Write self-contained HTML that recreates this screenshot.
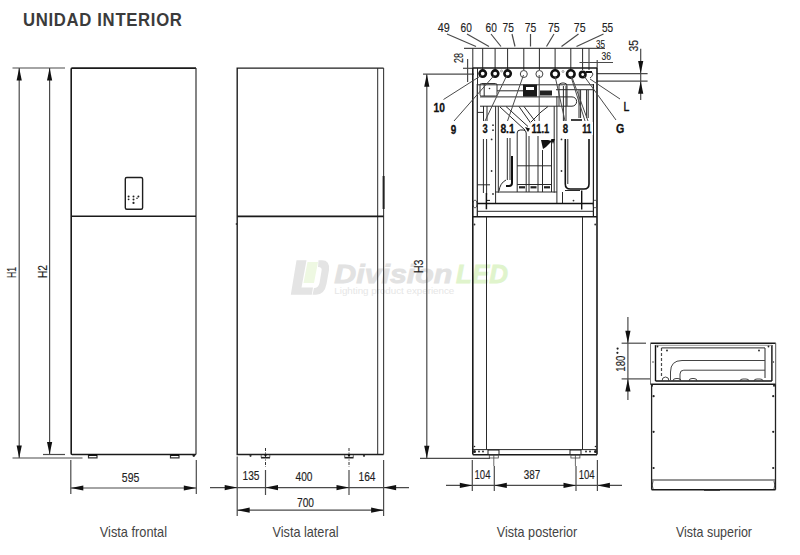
<!DOCTYPE html>
<html><head><meta charset="utf-8">
<style>
html,body{margin:0;padding:0;background:#fff;}
svg{display:block;}
text{font-family:"Liberation Sans",sans-serif;}
.t{font-size:19px;font-weight:bold;fill:#3b3b3b;}
.v{font-size:15px;fill:#444;}
.d{font-size:13px;fill:#1e1e1e;stroke:#1e1e1e;stroke-width:0.15;}
.b{font-size:13px;font-weight:bold;fill:#111;stroke:#111;stroke-width:0.3;}
.s{font-size:11px;fill:#222;stroke:#222;stroke-width:0.1;}
.k{stroke:#1a1a1a;stroke-width:1.6;fill:none;}
.m{stroke:#2a2a2a;stroke-width:1;fill:none;}
.l{stroke:#4a4a4a;stroke-width:1.2;fill:none;}
.th{stroke:#111;stroke-width:2;fill:none;}
</style></head>
<body>
<svg width="800" height="555" viewBox="0 0 800 555">
<defs>
<path id="aU" d="M0,0 L-2.6,12.5 L2.6,12.5 Z" fill="#111"/>
</defs>
<rect width="800" height="555" fill="#fff"/>

<!-- watermark -->
<g id="wm">
  <path d="M296.5,260.3 L306.5,260.3 L301.5,287.5 L313,287.5 L311.8,294.7 L290.8,294.7 Z" fill="#e4e4e4"/>
  <path d="M307.5,262 L318,262 L314,283 L303.5,283 Z" fill="#eef8e2"/>
  <path d="M318.5,260.3 L322,260.3 Q330,260.3 329,270 L326.5,284 Q324.5,294.7 316,294.7 L312.5,294.7 L314,288 Q318.5,288 319.5,283 L321.5,271 Q322.5,267 318,267 Z" fill="#e4e4e4"/>
  <text x="334.3" y="283" font-size="26" font-weight="bold" font-style="italic" fill="#e2e2e2" stroke="#e2e2e2" stroke-width="0.8" textLength="118" lengthAdjust="spacingAndGlyphs">Division</text>
  <text x="456" y="283" font-size="26" font-weight="bold" font-style="italic" fill="#e0f4cc" stroke="#e0f4cc" stroke-width="0.8" textLength="52" lengthAdjust="spacingAndGlyphs">LED</text>
  <text x="334.3" y="293.5" font-size="9.5" fill="#e6e6e6" textLength="120" lengthAdjust="spacingAndGlyphs">Lighting product experience</text>
</g>

<!-- Title -->
<text transform="translate(22.9,26) scale(0.88,1)" class="t" textLength="180.7" lengthAdjust="spacing">UNIDAD INTERIOR</text>

<!-- ============ FRONT VIEW ============ -->
<g id="front">
  <!-- H1 / H2 dims -->
  <line class="l" x1="12.5" y1="68" x2="65" y2="68"/>
  <line class="l" x1="19.2" y1="68" x2="19.2" y2="458"/>
  <line class="l" x1="49.6" y1="68" x2="49.6" y2="454.5"/>
  <use href="#aU" transform="translate(19.2,68)"/>
  <use href="#aU" transform="translate(49.6,68)"/>
  <use href="#aU" transform="translate(19.2,458) rotate(180)"/>
  <use href="#aU" transform="translate(49.6,454.5) rotate(180)"/>
  <line class="l" x1="12.5" y1="458" x2="82.5" y2="458"/>
  <line class="l" x1="43" y1="454.5" x2="65" y2="454.5"/>
  <text class="d" transform="translate(15.9,278) rotate(-90)" textLength="11" lengthAdjust="spacingAndGlyphs">H1</text>
  <text class="d" transform="translate(47,278) rotate(-90)" textLength="13" lengthAdjust="spacingAndGlyphs">H2</text>

  <!-- body -->
  <path class="k" d="M196,68.1 H72.2 q-1,0 -1,1 V453.5 q0,1 1,1 H196"/>
  <line x1="196" y1="68.1" x2="196" y2="454.5" stroke="#333" stroke-width="1.2"/>
  <line class="k" x1="71.2" y1="216.3" x2="196" y2="216.3"/>
  <rect x="125.3" y="177.5" width="17.3" height="31.7" rx="1.5" fill="none" stroke="#1e1e1e" stroke-width="1.4"/>
  <g fill="#222">
    <circle cx="128.6" cy="196.6" r="1"/><circle cx="128.6" cy="199.3" r="0.9"/>
    <circle cx="133.5" cy="196.6" r="1"/><circle cx="133.5" cy="199.6" r="1"/><circle cx="133.5" cy="202.9" r="1.1"/>
    <circle cx="138.4" cy="196.4" r="1"/><circle cx="137" cy="198.3" r="0.8"/>
  </g>
  <!-- feet -->
  <g fill="none" stroke="#333" stroke-width="1.2">
    <path d="M88.5,455 V457.8 H97 V455"/><path d="M170.5,455 V457.8 H179 V455"/>
  </g>
  <g stroke="#000" stroke-width="1.4"><line x1="88.5" y1="455.2" x2="97" y2="455.2"/><line x1="170.5" y1="455.2" x2="179" y2="455.2"/></g>
  <circle cx="193.8" cy="455.6" r="1.3" fill="#222"/>

  <!-- width dim -->
  <line class="l" x1="70.8" y1="460" x2="70.8" y2="494"/>
  <line class="l" x1="196.3" y1="460" x2="196.3" y2="494"/>
  <line class="l" x1="70.8" y1="488" x2="196.3" y2="488"/>
  <use href="#aU" transform="translate(70.8,488) rotate(-90)"/>
  <use href="#aU" transform="translate(196.3,488) rotate(90)"/>
  <text class="d" x="121.8" y="481.7" textLength="17.5" lengthAdjust="spacingAndGlyphs">595</text>
</g>

<!-- ============ SIDE VIEW ============ -->
<g id="side">
  <path d="M383.6,68.1 H237.2 V454.5 H383.6" fill="none" stroke="#1e1e1e" stroke-width="1.4"/>
  <line x1="383.6" y1="68.1" x2="383.6" y2="454.5" stroke="#3a3a3a" stroke-width="1.1"/>
  <line class="m" x1="377.7" y1="68.1" x2="377.7" y2="454.5"/>
  <line class="k" x1="237.2" y1="216.4" x2="383.6" y2="216.4"/>
  <line x1="383.6" y1="176" x2="383.6" y2="209" stroke="#222" stroke-width="2"/>
  <circle cx="236.6" cy="224" r="1" fill="#333"/>
  <!-- feet -->
  <g stroke="#333" stroke-width="1" fill="none" stroke-dasharray="3,1.5,1,1.5">
    <line x1="265.5" y1="448" x2="265.5" y2="467"/><line x1="349" y1="448" x2="349" y2="467"/>
  </g>
  <g stroke="#222" stroke-width="1.6"><line x1="261" y1="457.7" x2="270" y2="457.7"/><line x1="344.5" y1="457.7" x2="353.5" y2="457.7"/></g>
  <g stroke="#555" stroke-width="0.9" fill="none"><path d="M261.2,455 v2.5 M269.8,455 v2.5 M344.7,455 v2.5 M353.3,455 v2.5"/></g>
  <circle cx="265.5" cy="455" r="1.2" fill="#111"/><circle cx="349" cy="455" r="1.2" fill="#111"/>
  <circle cx="250.5" cy="455.8" r="1.1" fill="#333"/>
  <circle cx="364" cy="455.8" r="1.1" fill="#333"/>
  <!-- dims -->
  <line class="l" x1="237.2" y1="456.5" x2="237.2" y2="516"/>
  <line class="l" x1="383.6" y1="460" x2="383.6" y2="516"/>
  <line class="l" x1="265.5" y1="470" x2="265.5" y2="495"/>
  <line class="l" x1="349" y1="470" x2="349" y2="495"/>
  <line class="l" x1="210" y1="487.6" x2="409" y2="487.6"/>
  <use href="#aU" transform="translate(237.2,487.6) rotate(90)"/>
  <use href="#aU" transform="translate(265.5,487.6) rotate(-90)"/>
  <use href="#aU" transform="translate(349,487.6) rotate(90)"/>
  <use href="#aU" transform="translate(383.6,487.6) rotate(-90)"/>
  <line class="l" x1="237.2" y1="510.2" x2="383.6" y2="510.2"/>
  <use href="#aU" transform="translate(237.2,510.2) rotate(-90)"/>
  <use href="#aU" transform="translate(383.6,510.2) rotate(90)"/>
  <text class="d" x="242.5" y="480.3" textLength="17" lengthAdjust="spacingAndGlyphs">135</text>
  <text class="d" x="295.5" y="480.5" textLength="17" lengthAdjust="spacingAndGlyphs">400</text>
  <text class="d" x="358.5" y="480.5" textLength="17" lengthAdjust="spacingAndGlyphs">164</text>
  <text class="d" x="297" y="506.7" textLength="17" lengthAdjust="spacingAndGlyphs">700</text>
</g>

<!-- POSTERIOR -->
<g id="post">
  <!-- H3 dim -->
  <line class="l" x1="423" y1="74.2" x2="474" y2="74.2"/>
  <line class="l" x1="420" y1="458.3" x2="490" y2="458.3"/>
  <line class="l" x1="426.8" y1="74.2" x2="426.8" y2="458.3"/>
  <use href="#aU" transform="translate(426.8,74.2)"/>
  <use href="#aU" transform="translate(426.8,458.3) rotate(180)"/>
  <text class="d" transform="translate(423.4,273) rotate(-90)" textLength="13.5" lengthAdjust="spacingAndGlyphs">H3</text>

  <!-- 28 dim -->
  <line class="l" x1="467.6" y1="59" x2="467.6" y2="82"/>
  <line class="l" x1="463" y1="68.3" x2="473" y2="68.3"/>
  <text class="d" font-size="12" transform="translate(463,63) rotate(-90)" textLength="10" lengthAdjust="spacingAndGlyphs">28</text>

  <!-- top dimension chain -->
  <line class="l" x1="464" y1="48.4" x2="605" y2="48.4"/>
  <g class="m">
    <line x1="472.8" y1="48.4" x2="472.8" y2="68"/>
    <line x1="482.7" y1="48.4" x2="482.7" y2="70"/>
    <line x1="495.1" y1="48.4" x2="495.1" y2="70"/>
    <line x1="507.6" y1="48.4" x2="507.6" y2="70"/>
    <line x1="523.8" y1="48.4" x2="523.8" y2="70"/>
    <line x1="539.4" y1="48.4" x2="539.4" y2="70"/>
    <line x1="555.1" y1="48.4" x2="555.1" y2="70"/>
    <line x1="570.8" y1="48.4" x2="570.8" y2="70"/>
    <line x1="582.6" y1="48.4" x2="582.6" y2="70"/>
    <line x1="589" y1="48.4" x2="589" y2="70"/>
  </g>
  <line class="l" x1="579.5" y1="62.5" x2="613" y2="62.5"/>
  <line class="l" x1="597.2" y1="60" x2="597.2" y2="68"/>
  <g class="l">
    <line x1="447" y1="34" x2="476" y2="46.5"/>
    <line x1="467" y1="34" x2="489" y2="46.5"/>
    <line x1="491" y1="34" x2="501" y2="46.5"/>
    <line x1="512" y1="34" x2="515" y2="46.5"/>
    <line x1="530.5" y1="34" x2="530.5" y2="46.5"/>
    <line x1="554" y1="34" x2="546.5" y2="46.5"/>
    <line x1="578.5" y1="34" x2="561.5" y2="46.5"/>
    <line x1="603.5" y1="34" x2="576.5" y2="46.5"/>
  </g>
  <g class="d">
    <text x="437.8" y="31.9" textLength="12" lengthAdjust="spacingAndGlyphs">49</text>
    <text x="460.6" y="31.9" textLength="11.3" lengthAdjust="spacingAndGlyphs">60</text>
    <text x="485.6" y="31.9" textLength="11.3" lengthAdjust="spacingAndGlyphs">60</text>
    <text x="502.5" y="31.9" textLength="11.3" lengthAdjust="spacingAndGlyphs">75</text>
    <text x="524.8" y="31.9" textLength="11.5" lengthAdjust="spacingAndGlyphs">75</text>
    <text x="548" y="31.9" textLength="11.7" lengthAdjust="spacingAndGlyphs">75</text>
    <text x="573.8" y="31.9" textLength="11.8" lengthAdjust="spacingAndGlyphs">75</text>
    <text x="601.9" y="31.9" textLength="11.2" lengthAdjust="spacingAndGlyphs">55</text>
  </g>
  <text class="s" x="596" y="47.6" textLength="9" lengthAdjust="spacingAndGlyphs">35</text>
  <text class="s" x="601.5" y="60.3" textLength="9.5" lengthAdjust="spacingAndGlyphs">36</text>

  <!-- right 35 dim -->
  <line class="l" x1="597" y1="73.6" x2="647.6" y2="73.6"/>
  <line class="l" x1="597" y1="81.2" x2="647.6" y2="81.2"/>
  <line class="l" x1="640.7" y1="48.8" x2="640.7" y2="100"/>
  <use href="#aU" transform="translate(640.7,73.6) rotate(180)"/>
  <use href="#aU" transform="translate(640.7,81.2)"/>
  <text class="d" transform="translate(637.5,51.5) rotate(-90)" textLength="11.5" lengthAdjust="spacingAndGlyphs">35</text>

  <!-- body outer -->
  <line class="k" x1="472.8" y1="68" x2="597" y2="68"/>
  <line class="k" x1="472.8" y1="68" x2="472.8" y2="454.6"/>
  <line class="k" x1="597" y1="68" x2="597" y2="454.6"/>
  <line x1="477.3" y1="84" x2="477.3" y2="216.2" stroke="#1e1e1e" stroke-width="1.2"/>
  <line x1="593.4" y1="84" x2="593.4" y2="216.2" stroke="#1e1e1e" stroke-width="1.2"/>
  <line class="m" x1="477.5" y1="68" x2="477.5" y2="84"/>
  <line class="m" x1="477" y1="84.8" x2="593.4" y2="84.8"/>
  <!-- pipe connections -->
  <g fill="none" stroke="#111" stroke-width="2.6">
    <circle cx="482.7" cy="73.6" r="3.2"/>
    <circle cx="495.1" cy="73.6" r="3.2"/>
    <circle cx="507.6" cy="73.6" r="3.2"/>
    <circle cx="555.1" cy="74" r="3.8"/>
    <circle cx="570.8" cy="74" r="3.8"/>
    <circle cx="582.7" cy="74.5" r="2.8"/>
  </g>
  <g fill="none" stroke="#444" stroke-width="1">
    <circle cx="523.8" cy="74" r="3.5"/>
    <circle cx="539.4" cy="74" r="3.5"/>
    <path d="M589,72 q3,-1 4,2 q-1,3 -3,4"/>
  </g>
  <circle cx="501.5" cy="71" r="1" fill="none" stroke="#666" stroke-width="0.6"/>
  <circle cx="563" cy="71.5" r="1" fill="none" stroke="#666" stroke-width="0.6"/>
  <line x1="586" y1="72" x2="592" y2="72" stroke="#111" stroke-width="2"/>

  <!-- horizontal pipe -->
  <path class="m" d="M480,96.9 H572 a4.65,4.65 0 0 1 0,9.3 H480"/>
  <line class="m" x1="497" y1="90.8" x2="523" y2="90.8"/>
  <rect x="523" y="84.5" width="14" height="12" fill="#1a1a1a"/>
  <rect x="526" y="87" width="8" height="3" fill="#fff"/>
  <rect x="540" y="90.5" width="12" height="5" fill="#222"/>
  <rect x="480" y="83.5" width="17" height="12.5" rx="1.5" fill="none" stroke="#333" stroke-width="1"/>
  <line class="m" x1="484.2" y1="84" x2="484.2" y2="96"/>
  <circle cx="489.5" cy="88.5" r="0.8" fill="#333"/>
  <path d="M559,106 V86 q0,-3 3,-3 h2 q3,0 3,3 V106" fill="none" stroke="#333" stroke-width="1"/>
  <line class="m" x1="563.4" y1="86" x2="563.4" y2="121"/>
  <line class="m" x1="566" y1="86" x2="566" y2="121"/>
  <line class="m" x1="556" y1="89.7" x2="593" y2="89.7"/>
  <g class="m"><line x1="579" y1="90" x2="579" y2="118"/><line x1="580.6" y1="90" x2="580.6" y2="118"/><line x1="586.6" y1="90" x2="586.6" y2="118"/><line x1="588.2" y1="90" x2="588.2" y2="118"/></g>
  <line x1="571" y1="120" x2="582" y2="120" stroke="#111" stroke-width="1.6"/>
  <line class="m" x1="483.5" y1="106" x2="483.5" y2="121"/>
  <line class="m" x1="487" y1="106" x2="487" y2="121"/>
  <line class="m" x1="477" y1="112.4" x2="484" y2="112.4"/>

  <!-- inner module -->
  <line class="m" x1="495.6" y1="106.2" x2="495.6" y2="203.5"/>
  <line class="m" x1="498.3" y1="106.2" x2="498.3" y2="192.7"/>
  <line class="m" x1="554.2" y1="106.2" x2="554.2" y2="192.7"/>
  <line class="m" x1="556.9" y1="96" x2="556.9" y2="203.5"/>
  <line class="m" x1="495.6" y1="192" x2="556.9" y2="192"/>
  <g class="m">
    <path d="M500,107 L525,130"/>
    <path d="M506,106.5 L528,126.5"/>
    <path d="M519,106.5 L531,123.5"/>
    <path d="M524,106.5 L535,121"/>
    <path d="M531,122 L541,112 L548,106.5"/>
    <line x1="507.3" y1="138" x2="507.3" y2="180"/>
    <line x1="510" y1="138" x2="510" y2="180"/>
    <path d="M517.2,192 V133 q0,-3 3,-3 h3 q3,0 3,3 V192"/>
    <line x1="529" y1="136" x2="529" y2="192"/>
    <line x1="538" y1="136" x2="538" y2="192"/>
    <line x1="542.5" y1="150" x2="542.5" y2="192"/>
    <line x1="551.5" y1="140" x2="551.5" y2="192"/>
    <line x1="517.2" y1="165.8" x2="551.5" y2="165.8"/>
    <line x1="517.2" y1="184.5" x2="551.5" y2="184.5"/>
    <path d="M499,191 q1,-8 7,-11"/>
  </g>
  <g fill="#222">
    <rect x="519" y="186.2" width="6" height="2.2"/>
    <rect x="530.5" y="186.2" width="6" height="2.2"/>
    <rect x="544" y="186.2" width="6" height="2.2"/>
  </g>
  <path d="M512,156 V183 q0,3 -3,3 h-3" fill="none" stroke="#111" stroke-width="2"/>
  <path d="M541,140 l2,9 l3,-2 l6,-6 l-4,-1 z" fill="#111"/>
  <path d="M551,139 l4,0 l-2,5 z" fill="#111"/>
  <path d="M525,127 l5,1.5 l-2,3.5 z" fill="#111"/>
  <!-- left pipe -->
  <line class="m" x1="483.4" y1="139" x2="483.4" y2="193"/>
  <line class="m" x1="486.6" y1="139" x2="486.6" y2="195"/>
  <line class="m" x1="477" y1="184.8" x2="490" y2="184.8"/>
  <line x1="486.4" y1="193" x2="486.4" y2="209.3" stroke="#111" stroke-width="1.5"/>
  <line x1="486" y1="200.4" x2="490" y2="200.4" stroke="#111" stroke-width="1"/>
  <!-- right U pipe -->
  <path d="M565.3,139 V184 q0,5 5,5 H584 q5,0 5,-5 V139" fill="none" stroke="#111" stroke-width="1.6"/>
  <line class="m" x1="567.8" y1="139" x2="567.8" y2="184"/>
  <line x1="581.7" y1="190.5" x2="581.7" y2="209.5" stroke="#111" stroke-width="1.4"/>
  <line class="m" x1="565" y1="190.5" x2="580" y2="190.5"/>
  <line class="m" x1="562.5" y1="192" x2="562.5" y2="203.5"/>
  <g fill="#333">
    <circle cx="491.6" cy="139.4" r="0.9"/><circle cx="491.6" cy="171" r="0.9"/><circle cx="493" cy="194" r="0.9"/>
    <circle cx="561.5" cy="139.4" r="0.9"/><circle cx="561.5" cy="171" r="0.9"/><circle cx="573.5" cy="200.6" r="0.9"/>
    <circle cx="474.5" cy="224.5" r="0.9"/><circle cx="595.2" cy="224.5" r="0.9"/>
  </g>

  <!-- band -->
  <line x1="477" y1="203.5" x2="593.4" y2="203.5" stroke="#111" stroke-width="1.6"/>
  <line class="m" x1="477" y1="211.3" x2="593.4" y2="211.3"/>
  <line class="k" x1="472.8" y1="216.8" x2="597" y2="216.8"/>
  <ellipse cx="475" cy="204" rx="2" ry="4" fill="none" stroke="#333" stroke-width="0.8"/>
  <ellipse cx="595" cy="204" rx="2" ry="4" fill="none" stroke="#333" stroke-width="0.8"/>

  <!-- lower stand -->
  <line class="m" x1="486.5" y1="217" x2="486.5" y2="449.6"/>
  <line class="m" x1="582.5" y1="217" x2="582.5" y2="449.6"/>
  <line class="m" x1="472.8" y1="449.6" x2="597" y2="449.6"/>
  <line class="k" x1="472.8" y1="454.7" x2="597" y2="454.7"/>
  <g fill="none" stroke="#222" stroke-width="1">
    <rect x="488" y="450" width="11" height="4.5"/>
    <rect x="570" y="450" width="11" height="4.5"/>
  </g>
  <g fill="#222">
    <circle cx="474.5" cy="451.5" r="1.5"/><circle cx="595.5" cy="451.5" r="1.5"/>
    <circle cx="479" cy="451.5" r="0.9"/><circle cx="483" cy="451.5" r="0.9"/>
    <circle cx="586" cy="451.5" r="0.9"/><circle cx="590" cy="451.5" r="0.9"/>
    <circle cx="474.5" cy="446.5" r="0.8"/><circle cx="595.5" cy="446.5" r="0.8"/>
  </g>
  <g stroke="#444" stroke-width="0.8" fill="none">
    <line x1="493.8" y1="455" x2="493.8" y2="466"/><rect x="489.3" y="455" width="9" height="3"/>
    <line x1="575.4" y1="455" x2="575.4" y2="466"/><rect x="570.9" y="455" width="9" height="3"/>
  </g>

  <!-- leaders -->
  <g stroke="#4a4a4a" stroke-width="1" fill="none">
    <line x1="443.5" y1="99.5" x2="482" y2="75"/>
    <line x1="454" y1="121" x2="494.5" y2="75"/>
    <line x1="485" y1="121" x2="507" y2="75"/>
    <line x1="507.5" y1="121" x2="523.5" y2="75"/>
    <line x1="539.2" y1="121" x2="539.2" y2="75"/>
    <line x1="565" y1="121" x2="555" y2="76"/>
    <line x1="585" y1="121" x2="570.8" y2="76"/>
    <line x1="588" y1="121" x2="571.5" y2="76"/>
    <line x1="616" y1="120" x2="584" y2="76"/>
    <line x1="620" y1="99" x2="590" y2="79"/>
  </g>
  <g fill="#fff">
    <rect x="481.5" y="122" width="7.5" height="13"/>
    <rect x="490" y="122" width="5" height="13"/>
    <rect x="499.5" y="122" width="16.5" height="13"/>
    <rect x="530.5" y="122" width="20" height="13"/>
    <rect x="561.5" y="122" width="8" height="13"/>
    <rect x="581" y="122" width="12" height="13"/>
  </g>
  <circle cx="493" cy="125.2" r="0.9" fill="#333"/><circle cx="493" cy="130.2" r="0.9" fill="#333"/>
  <g class="b">
    <text x="433.5" y="111.6" textLength="11.4" lengthAdjust="spacingAndGlyphs">10</text>
    <text x="450.8" y="133.7" textLength="5.5" lengthAdjust="spacingAndGlyphs">9</text>
    <text x="482.5" y="133.4" textLength="5.2" lengthAdjust="spacingAndGlyphs">3</text>
    <text x="500.4" y="133.4" textLength="14.3" lengthAdjust="spacingAndGlyphs">8.1</text>
    <text x="531.6" y="133.4" textLength="17.7" lengthAdjust="spacingAndGlyphs">11.1</text>
    <text x="562.8" y="133.4" textLength="5.4" lengthAdjust="spacingAndGlyphs">8</text>
    <text x="582.2" y="133.4" textLength="9.3" lengthAdjust="spacingAndGlyphs">11</text>
    <text x="623.5" y="110.6" font-weight="normal" stroke-width="0.45" textLength="5.8" lengthAdjust="spacingAndGlyphs">L</text>
    <text x="615.9" y="133" textLength="8.3" lengthAdjust="spacingAndGlyphs">G</text>
  </g>

  <!-- bottom dims -->
  <g class="l">
    <line x1="472.3" y1="460" x2="472.3" y2="491"/>
    <line x1="494.3" y1="466" x2="494.3" y2="491"/>
    <line x1="576" y1="466" x2="576" y2="491"/>
    <line x1="597.4" y1="460" x2="597.4" y2="491"/>
    <line x1="446" y1="485.4" x2="622" y2="485.4"/>
  </g>
  <use href="#aU" transform="translate(472.3,485.4) rotate(90)"/>
  <use href="#aU" transform="translate(494.3,485.4) rotate(-90)"/>
  <use href="#aU" transform="translate(576,485.4) rotate(90)"/>
  <use href="#aU" transform="translate(597.4,485.4) rotate(-90)"/>
  <g class="d">
    <text x="474.5" y="478.8" textLength="16" lengthAdjust="spacingAndGlyphs">104</text>
    <text x="523.8" y="478.8" textLength="16.5" lengthAdjust="spacingAndGlyphs">387</text>
    <text x="578.7" y="478.8" textLength="16" lengthAdjust="spacingAndGlyphs">104</text>
  </g>
</g>

<!-- TOP VIEW -->
<g id="top">
  <!-- 180** dim -->
  <line class="l" x1="627.9" y1="317" x2="627.9" y2="400"/>
  <line class="l" x1="621.6" y1="343.2" x2="646" y2="343.2"/>
  <line class="l" x1="621.6" y1="378.9" x2="650" y2="378.9"/>
  <use href="#aU" transform="translate(627.9,343.2) rotate(180)"/>
  <use href="#aU" transform="translate(627.9,378.9)"/>
  <text class="d" transform="translate(624.6,371.7) rotate(-90)" textLength="16" lengthAdjust="spacingAndGlyphs">180</text>
  <circle cx="617.6" cy="348.6" r="1.1" fill="#222"/><circle cx="617.4" cy="352.8" r="1.1" fill="#222"/>

  <!-- upper section -->
  <line class="k" x1="650.5" y1="343.2" x2="775.7" y2="343.2"/>
  <line x1="650.5" y1="343.2" x2="650.5" y2="384.3" stroke="#777" stroke-width="1"/>
  <line x1="775.7" y1="343.2" x2="775.7" y2="384.3" stroke="#555" stroke-width="1"/>
  <line x1="655.5" y1="345" x2="655.5" y2="381" stroke="#111" stroke-width="1.4"/>
  <line x1="771.9" y1="345" x2="771.9" y2="381" stroke="#111" stroke-width="1.4"/>
  <line class="l" x1="661.5" y1="348" x2="661.5" y2="378" stroke-dasharray="3,2"/>
  <line class="m" x1="765" y1="348" x2="765" y2="378"/>
  <line x1="655.5" y1="345.3" x2="771.9" y2="345.3" stroke="#888" stroke-width="0.9"/>
  <line class="m" x1="661.5" y1="347.9" x2="765" y2="347.9"/>
  <path d="M670.5,380 V372 q0,-11.5 11.5,-11.5 H765" fill="none" stroke="#444" stroke-width="1"/>
  <path d="M680,380 V374 q0,-3.8 3.8,-3.8 H765" fill="none" stroke="#444" stroke-width="1"/>
  <line x1="655.5" y1="381" x2="771.9" y2="381" stroke="#111" stroke-width="1.6"/>
  <line class="k" x1="650.5" y1="384.3" x2="775.7" y2="384.3"/>
  <g fill="none" stroke="#333" stroke-width="0.9">
    <path d="M673,381 q0,-2.5 3,-2.5 h2 q3,0 3,2.5"/>
    <path d="M689,381 q0,-2.5 3,-2.5 h2 q3,0 3,2.5"/>
    <path d="M740,381 q0,-2 3,-2 h3 q3,0 3,2"/>
    <path d="M754,381 q0,-2 3,-2 h3 q3,0 3,2"/>
    <path d="M662,381 q0,-4 3.5,-4 q3.5,0 3.5,4"/>
  </g>
  <g fill="#222">
    <circle cx="657.5" cy="346.5" r="0.9"/><circle cx="667" cy="350.5" r="0.9"/>
    <circle cx="768.5" cy="346.5" r="0.9"/><circle cx="759" cy="350.5" r="0.9"/>
    <circle cx="653" cy="362" r="0.7"/><circle cx="773.5" cy="362" r="0.7"/>
    <circle cx="652" cy="385.8" r="1"/><circle cx="774" cy="385.8" r="1"/>
  </g>

  <!-- lower section -->
  <line x1="651.6" y1="384.3" x2="651.6" y2="489.7" stroke="#222" stroke-width="1.3"/>
  <line x1="775.5" y1="384.3" x2="775.5" y2="489.7" stroke="#222" stroke-width="1.3"/>
  <line class="m" x1="651.6" y1="480" x2="775.5" y2="480"/>
  <line class="k" x1="651.6" y1="489.7" x2="775.5" y2="489.7"/>
  <g fill="#222">
    <circle cx="653.6" cy="396.2" r="1.1"/><circle cx="773.2" cy="396.2" r="1.1"/>
    <circle cx="653.6" cy="431.8" r="1.1"/><circle cx="773.2" cy="431.8" r="1.1"/>
    <circle cx="653.6" cy="468" r="1.1"/><circle cx="773.2" cy="468" r="1.1"/>
  </g>
  <g fill="none" stroke="#333" stroke-width="0.9">
    <path d="M653,481 q-1.5,4 0,8"/><path d="M774,481 q1.5,4 0,8"/>
  </g>
  <line x1="704" y1="490" x2="720" y2="490" stroke="#222" stroke-width="1.5"/>
</g>

<!-- Labels -->
<text class="v" x="99.8" y="537.3" textLength="67.2" lengthAdjust="spacingAndGlyphs">Vista frontal</text>
<text class="v" x="272.5" y="537.3" textLength="66" lengthAdjust="spacingAndGlyphs">Vista lateral</text>
<text class="v" x="496.8" y="537.3" textLength="80.4" lengthAdjust="spacingAndGlyphs">Vista posterior</text>
<text class="v" x="676" y="537.3" textLength="76" lengthAdjust="spacingAndGlyphs">Vista superior</text>
</svg>
</body></html>
